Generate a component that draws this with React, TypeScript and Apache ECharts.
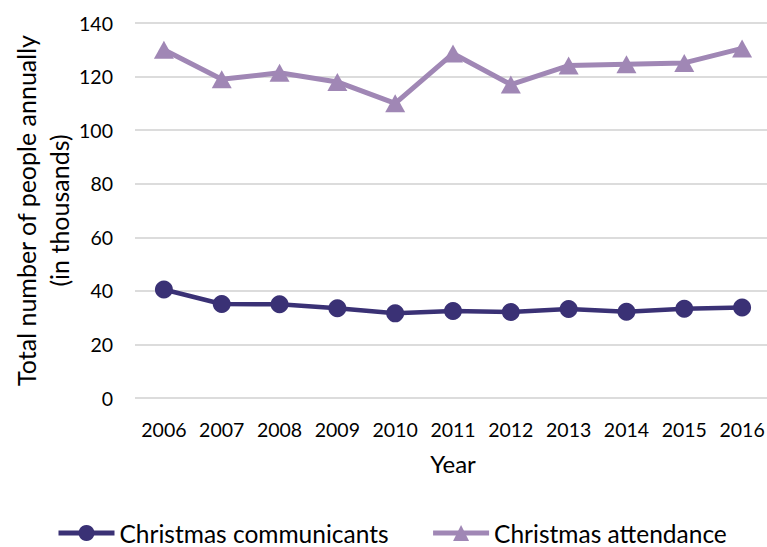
import React, { useEffect, useRef } from "react";
import * as echarts from "echarts";

const years = ["2006", "2007", "2008", "2009", "2010", "2011", "2012", "2013", "2014", "2015", "2016"];
const communicants = [40.5, 35.1, 35.0, 33.5, 31.6, 32.5, 32.1, 33.2, 32.2, 33.3, 33.8];
const attendance = [130, 119, 121.4, 118, 110, 128.6, 117, 124.1, 124.6, 125.1, 130.5];
const yTicksMin = 0;
const yTicksMax = 140;
const yTickStep = 20;

const FONT = "Lato, 'Open Sans', sans-serif";
const DARK = "#3a3175";
const LIGHT = "#a087b5";

export default function App() {
  const ref = useRef<HTMLDivElement>(null);
  useEffect(() => {
    const chart = echarts.init(ref.current!, null, { renderer: "svg" });
    chart.setOption({
      animation: false,
      textStyle: { fontFamily: FONT, color: "#000" },
      grid: { left: 135, right: -4, top: 23, bottom: 149, outerBoundsMode: "none", containLabel: false },
      legend: {
        top: 520,
        left: 56,
        padding: 0,
        itemWidth: 56,
        itemHeight: 20,
        itemGap: 42,
        lineStyle: { width: 5 },
        textStyle: { fontSize: 24.5, color: "#000", fontFamily: FONT, lineHeight: 26 },
        data: ["Christmas communicants", "Christmas attendance"],
      },
      xAxis: {
        type: "category",
        data: years,
        boundaryGap: true,
        name: "Year",
        nameLocation: "middle",
        nameGap: 53,
        nameMoveOverlap: false,
        nameTextStyle: { fontSize: 24, color: "#000", fontFamily: FONT },
        axisLine: { show: false },
        axisTick: { show: false },
        axisLabel: { fontSize: 19.5, color: "#000", margin: 21, fontFamily: FONT, interval: 0 },
      },
      yAxis: {
        type: "value",
        min: yTicksMin,
        max: yTicksMax,
        interval: yTickStep,
        name: "Total number of people annually\n(in thousands)",
        nameLocation: "middle",
        nameGap: 60,
        nameMoveOverlap: false,
        nameTextStyle: { fontSize: 25, color: "#000", lineHeight: 33, fontFamily: FONT },
        axisLine: { show: false },
        axisTick: { show: false },
        axisLabel: { fontSize: 19.5, color: "#000", margin: 22, fontFamily: FONT },
        splitLine: { lineStyle: { color: "#d0d0d0", width: 1.5 } },
      },
      series: [
        {
          name: "Christmas communicants",
          type: "line",
          data: communicants,
          symbol: "circle",
          symbolSize: 18,
          lineStyle: { color: DARK, width: 4.5 },
          itemStyle: { color: DARK },
        },
        {
          name: "Christmas attendance",
          type: "line",
          data: attendance,
          symbol: "triangle",
          symbolSize: [20, 18],
          lineStyle: { color: LIGHT, width: 5 },
          itemStyle: { color: LIGHT },
        },
      ],
    });
    return () => chart.dispose();
  }, []);
  return (
    <div
      ref={ref}
      style={{ position: "fixed", left: 0, top: 0, width: 767, height: 547, background: "#fff" }}
    />
  );
}
